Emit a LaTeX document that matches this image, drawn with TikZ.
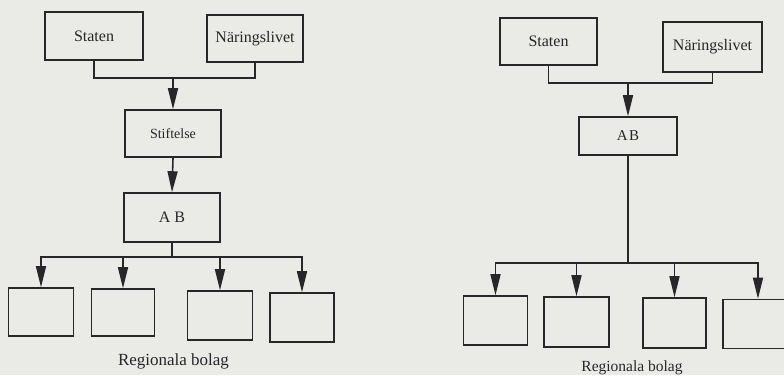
\documentclass[tikz,border=0pt]{standalone}
\usepackage{fontspec}
\setmainfont{Liberation Serif}
\usetikzlibrary{arrows.meta}
\definecolor{paper}{RGB}{234,234,231}
\definecolor{ink}{RGB}{40,38,42}
\begin{document}
\begin{tikzpicture}[x=1pt,y=-1pt,
  line width=1.6pt, color=ink,
  box/.style={draw=ink, line width=1.6pt, inner sep=0pt, text=ink,
    font=\fontsize{16}{18}\selectfont},
  arr/.style={-{Triangle[length=21pt,width=10pt]}, draw=ink, line width=1.6pt},
  caption/.style={text=ink, inner sep=0pt}]
\fill[paper] (0,0) rectangle (784,375);
\useasboundingbox (0,0) rectangle (784,375);
\clip (0,0) rectangle (784,375);

% ---- first organisation: foundation owning the company ----
\node[box, minimum width=98pt, minimum height=48pt] (Ls) at (94,36) {Staten};
\node[box, minimum width=96pt, minimum height=47pt] (Ln) at (255,38.5) {Näringslivet};
\node[box, minimum width=96pt, minimum height=47pt,
      font=\fontsize{14}{16}\selectfont] (Lst) at (173,133.5) {Stiftelse};
\node[box, minimum width=96pt, minimum height=49pt] (Lab) at (172,217.5) {A\kern4pt B};
\node[box, minimum width=65pt, minimum height=48pt] (Lr1) at (41,312) {};
\node[box, minimum width=63pt, minimum height=47pt] (Lr2) at (123,312.5) {};
\node[box, minimum width=65pt, minimum height=49pt] (Lr3) at (220,315.5) {};
\node[box, minimum width=64pt, minimum height=49pt] (Lr4) at (302,317.5) {};
\node[caption, font=\fontsize{17}{20}\selectfont] (Lcap) at (173.5,361) {Regionala bolag};

\coordinate (Ljoin) at (173,78);
\coordinate (Lbus) at (172,257);
\draw (Ls.south) |- (Ljoin) -| (Ln.south);
\draw[arr] (Ljoin) -- (Lst.north);
\draw[arr] (Lst.south) -- (Lab.north);
\draw (Lab.south) -- (Lbus);
\draw[arr] (Lbus) -| (Lr1.north);
\draw[arr] (Lbus) -| (Lr2.north);
\draw[arr] (Lbus) -| (Lr3.north);
\draw[arr] (Lbus) -| (Lr4.north);

% ---- second organisation: company owned directly ----
\node[box, minimum width=97pt, minimum height=47pt] (Rs) at (548.5,41.5) {Staten};
\node[box, minimum width=99pt, minimum height=50pt] (Rn) at (712.5,47) {Näringslivet};
\node[box, minimum width=98pt, minimum height=38pt,
      font=\fontsize{15}{17}\selectfont] (Rab) at (628,136) {A\kern1.5pt B};
\node[box, minimum width=64pt, minimum height=49pt] (Rr1) at (495.5,320.5) {};
\node[box, minimum width=65pt, minimum height=50pt] (Rr2) at (576.5,322) {};
\node[box, minimum width=63pt, minimum height=50pt] (Rr3) at (674.5,323) {};
\node[box, minimum width=70pt, minimum height=49pt] (Rr4) at (758,324) {};
\node[caption, font=\fontsize{15.5}{18}\selectfont] (Rcap) at (632,368) {Regionala bolag};

\coordinate (Rjoin) at (628,83);
\coordinate (Rbus) at (628,263);
\draw (Rs.south) |- (Rjoin) -| (Rn.south);
\draw[arr] (Rjoin) -- (Rab.north);
\draw (Rab.south) -- (Rbus);
\draw[arr] (Rbus) -| (Rr1.north);
\draw[arr] (Rbus) -| (Rr2.north);
\draw[arr] (Rbus) -| (Rr3.north);
\draw[arr] (Rbus) -| (Rr4.north);
\end{tikzpicture}
\end{document}
